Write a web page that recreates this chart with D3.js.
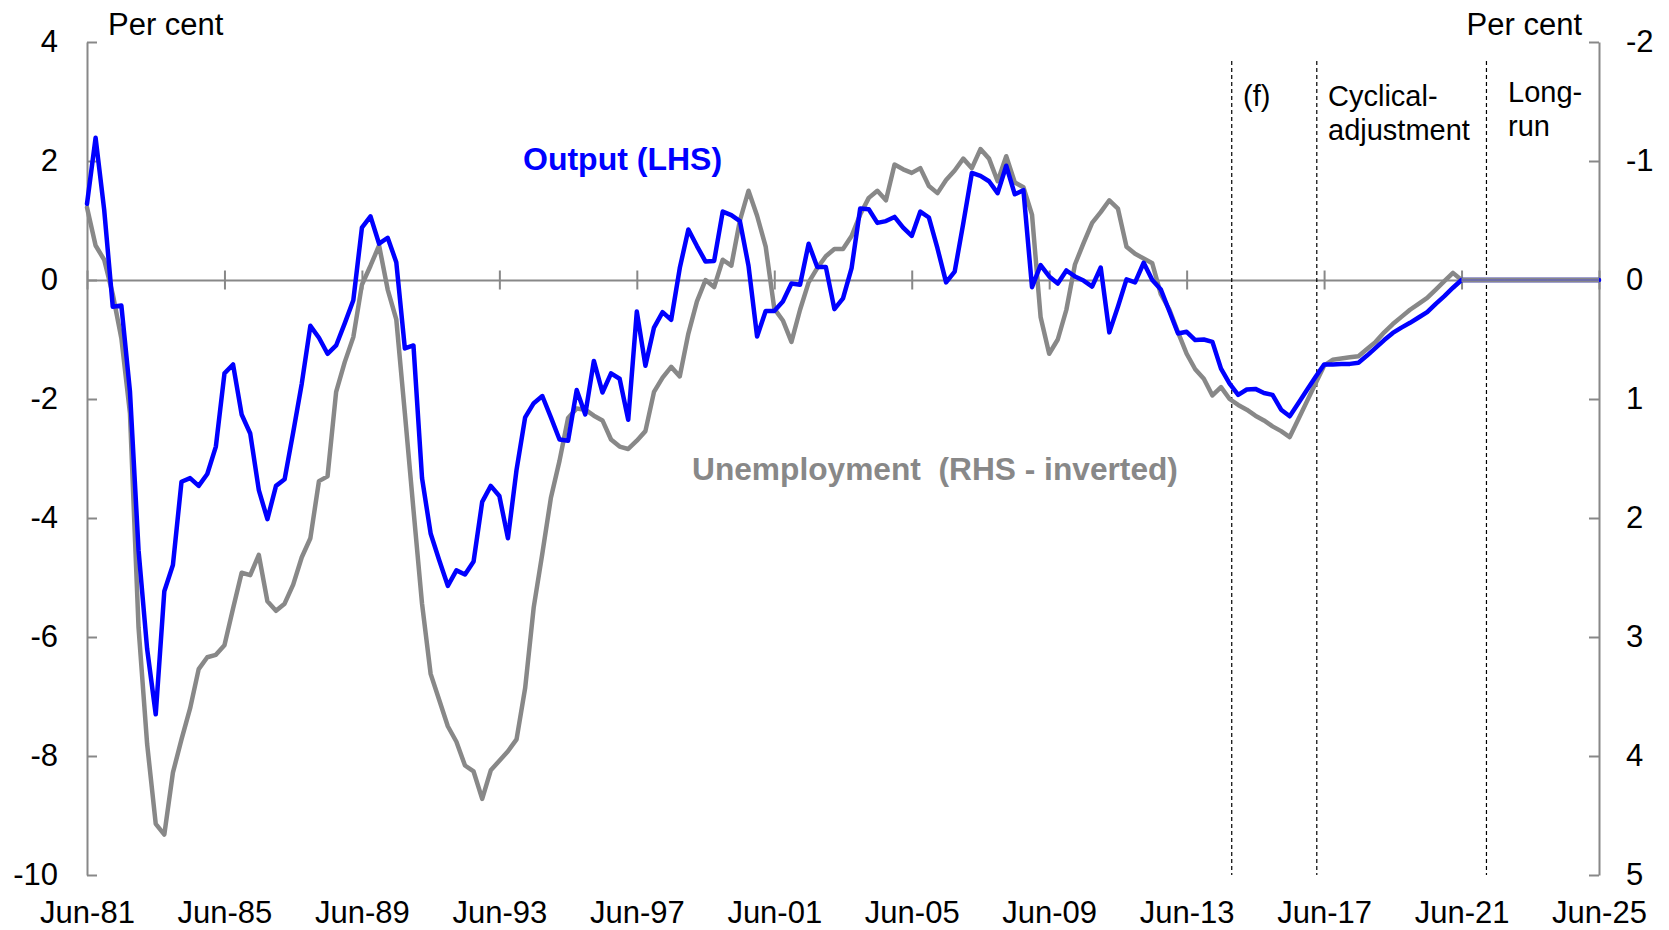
<!DOCTYPE html>
<html><head><meta charset="utf-8">
<script src="https://cdn.jsdelivr.net/npm/d3@7"></script>
<style>
body{margin:0;background:#fff}
svg{display:block}
text{font-family:"Liberation Sans",Arial,sans-serif;fill:#000}
</style>
</head><body>
<svg id="chart" width="1669" height="930"></svg>
<script>
// Quarter index 0 = Jun-81 ... 176 = Jun-25
const xTickLabels = ["Jun-81","Jun-85","Jun-89","Jun-93","Jun-97","Jun-01","Jun-05","Jun-09","Jun-13","Jun-17","Jun-21","Jun-25"];
const xTickQuarters = [0,16,32,48,64,80,96,112,128,144,160,176];

// Output gap, per cent (LHS)
const output = [
 1.28, 2.39, 1.18,-0.45,-0.43,-1.87,-4.54,-6.20,-7.30,-5.23,
-4.79,-3.39,-3.33,-3.46,-3.26,-2.80,-1.57,-1.42,-2.26,-2.58,
-3.53,-4.02,-3.46,-3.35,-2.56,-1.74,-0.77,-0.97,-1.24,-1.10,
-0.73,-0.34, 0.88, 1.07, 0.61, 0.71, 0.30,-1.15,-1.10,-3.33,
-4.26,-4.71,-5.14,-4.88,-4.95,-4.73,-3.73,-3.46,-3.63,-4.34,
-3.19,-2.31,-2.07,-1.95,-2.31,-2.68,-2.70,-1.85,-2.26,-1.36,
-1.89,-1.57,-1.66,-2.35,-0.53,-1.44,-0.80,-0.54,-0.67, 0.20,
 0.85, 0.57, 0.31, 0.32, 1.15, 1.09, 0.99, 0.24,-0.95,-0.52,
-0.52,-0.36,-0.06,-0.08, 0.61, 0.22, 0.22,-0.49,-0.31, 0.20,
 1.20, 1.19, 0.96, 0.99, 1.06, 0.88, 0.74, 1.15, 1.05, 0.53,
-0.04, 0.14, 0.95, 1.80, 1.75, 1.66, 1.46, 1.92, 1.44, 1.51,
-0.12, 0.25, 0.06,-0.06, 0.16, 0.06,-0.01,-0.11, 0.21,-0.88,
-0.45, 0.01,-0.04, 0.29, 0.00,-0.16,-0.53,-0.90,-0.87,-1.01,
-1.00,-1.04,-1.49,-1.74,-1.93,-1.84,-1.83,-1.90,-1.93,-2.18,
-2.29,-2.07,-1.85,-1.63,-1.42,-1.42,-1.41,-1.41,-1.39,-1.27,
-1.14,-1.01,-0.89,-0.80,-0.72,-0.63,-0.54,-0.40,-0.27,-0.13,
 0.00, 0.00, 0.00, 0.00, 0.00, 0.00, 0.00, 0.00, 0.00, 0.00,
 0.00, 0.00, 0.00, 0.00, 0.00, 0.00, 0.00
];

// Unemployment gap, per cent (RHS, inverted)
const unemployment = [
-0.61,-0.29,-0.17, 0.12, 0.49, 1.12, 2.92, 3.90, 4.57, 4.66,
 4.14, 3.86, 3.60, 3.27, 3.17, 3.15, 3.07, 2.76, 2.46, 2.48,
 2.31, 2.70, 2.78, 2.72, 2.56, 2.33, 2.17, 1.69, 1.65, 0.94,
 0.69, 0.48, 0.04,-0.12,-0.29, 0.08, 0.33, 1.12, 1.93, 2.72,
 3.31, 3.53, 3.75, 3.88, 4.08, 4.13, 4.36, 4.12, 4.04, 3.96,
 3.86, 3.43, 2.75, 2.30, 1.83, 1.52, 1.16, 1.08, 1.09, 1.14,
 1.18, 1.34, 1.40, 1.42, 1.35, 1.27, 0.94, 0.82, 0.73, 0.81,
 0.45, 0.18, 0.00, 0.06,-0.17,-0.12,-0.50,-0.75,-0.54,-0.28,
 0.24, 0.34, 0.52, 0.25, 0.02,-0.10,-0.20,-0.26,-0.26,-0.37,
-0.55,-0.69,-0.75,-0.67,-0.97,-0.93,-0.90,-0.94,-0.79,-0.73,
-0.84,-0.92,-1.02,-0.94,-1.10,-1.02,-0.83,-1.04,-0.82,-0.78,
-0.55, 0.31, 0.62, 0.50, 0.25,-0.13,-0.31,-0.48,-0.57,-0.67,
-0.60,-0.28,-0.22,-0.18,-0.14, 0.12, 0.25, 0.44, 0.62, 0.75,
 0.83, 0.97, 0.90, 1.00, 1.05, 1.09, 1.14, 1.18, 1.23, 1.27,
 1.32, 1.17, 1.02, 0.87, 0.72, 0.67, 0.66, 0.65, 0.64, 0.58,
 0.52, 0.44, 0.37, 0.31, 0.25, 0.20, 0.15, 0.08, 0.01,-0.06,
 0.00, 0.00, 0.00, 0.00, 0.00, 0.00, 0.00, 0.00, 0.00, 0.00,
 0.00, 0.00, 0.00, 0.00, 0.00, 0.00, 0.00
];

const leftTicks = [4,2,0,-2,-4,-6,-8,-10];
const rightTicks = [-2,-1,0,1,2,3,4,5];
const phaseBoundaries = [133.25, 143.15, 162.9];
const phaseLabels = [["(f)"],["Cyclical-","adjustment"],["Long-","run"]];
const longRunStart = 160;

const svg = d3.select("#chart");
const L = 87, R = 1599, T = 42, B = 875;
const GREY = "#888888", BLUE = "#0000ff";
const plainNum = d => String(d);

const x = d3.scaleLinear().domain([0,176]).range([L,R]);
const yL = d3.scaleLinear().domain([-10,4]).range([B,T]);
const yR = d3.scaleLinear().domain([-2,5]).range([T,B]);
const y0 = yL(0);

function styleAxis(g){
  g.selectAll("path,line").attr("stroke",GREY).attr("stroke-width",2);
  g.selectAll("text").attr("font-size",31).attr("fill","#000")
   .attr("font-family",'"Liberation Sans",Arial,sans-serif');
}

// Left axis
svg.append("g").attr("transform",`translate(${L},0)`)
  .call(d3.axisLeft(yL).tickValues(leftTicks).tickFormat(plainNum)
        .tickSizeInner(-10).tickSizeOuter(0).tickPadding(29))
  .call(styleAxis);
// Right axis
svg.append("g").attr("transform",`translate(${R},0)`)
  .call(d3.axisRight(yR).tickValues(rightTicks).tickFormat(plainNum)
        .tickSizeInner(-10).tickSizeOuter(0).tickPadding(27))
  .call(styleAxis);

// Zero line with crossing ticks
svg.append("g").attr("transform",`translate(0,${y0-9.5})`)
  .call(d3.axisBottom(x).tickValues(xTickQuarters).tickSize(19).tickFormat(""))
  .call(g=>g.select(".domain").remove())
  .call(styleAxis);
svg.append("g").attr("transform",`translate(0,${y0})`)
  .call(d3.axisBottom(x).tickValues([]).tickSizeOuter(0))
  .call(styleAxis);

// X labels
svg.append("g").attr("transform",`translate(0,${B})`)
  .call(d3.axisBottom(x).tickValues(xTickQuarters).tickSize(0).tickPadding(26)
        .tickFormat((d,i)=>xTickLabels[i]))
  .call(g=>g.select(".domain").remove())
  .call(styleAxis);

// Phase boundaries (dashed)
svg.append("g").selectAll("line").data(phaseBoundaries).join("line")
  .attr("x1",d=>x(d)).attr("x2",d=>x(d)).attr("y1",61).attr("y2",B)
  .attr("stroke","#000").attr("stroke-width",1.2).attr("stroke-dasharray","4,3");

// Phase labels
const phaseX = [1243,1328,1508];
const phaseY = [106,106,102];
phaseLabels.forEach((lines,i)=>{
  const t = svg.append("text").attr("x",phaseX[i]).attr("y",phaseY[i]).attr("font-size",29);
  lines.forEach((s,j)=>t.append("tspan").attr("x",phaseX[i]).attr("dy",j?34:0).text(s));
});

// Lines
const qs = d3.range(output.length);
const lineL = d3.line().x(i=>x(i)).y(i=>yL(output[i]));
const lineR = d3.line().x(i=>x(i)).y(i=>yR(unemployment[i]));

svg.append("path").attr("d",lineR(qs)).attr("fill","none").attr("stroke",GREY)
  .attr("stroke-width",4.5).attr("stroke-linejoin","round").attr("stroke-linecap","round");
svg.append("path").attr("d",lineL(qs)).attr("fill","none").attr("stroke",BLUE)
  .attr("stroke-width",4.5).attr("stroke-linejoin","round").attr("stroke-linecap","round");
// long-run segment: grey drawn over, thin blue on top
const lr = qs.filter(i=>i>=longRunStart);
svg.append("path").attr("d",lineR(lr)).attr("fill","none").attr("stroke",GREY).attr("stroke-width",4.5);
svg.append("path").attr("d",lineL(lr)).attr("fill","none").attr("stroke","#5555cc").attr("stroke-width",1);

// Axis titles
svg.append("text").attr("x",108).attr("y",35).attr("font-size",31).text("Per cent");
svg.append("text").attr("x",1582).attr("y",35).attr("font-size",31).attr("text-anchor","end").text("Per cent");

// Series labels
svg.append("text").attr("x",523).attr("y",170).attr("font-size",32).attr("font-weight","bold")
  .style("fill",BLUE).text("Output (LHS)");
svg.append("text").attr("x",692).attr("y",480).attr("font-size",31.7).attr("font-weight","bold")
  .style("fill",GREY).attr("xml:space","preserve").style("white-space","pre")
  .text("Unemployment  (RHS - inverted)");
</script>
</body></html>
